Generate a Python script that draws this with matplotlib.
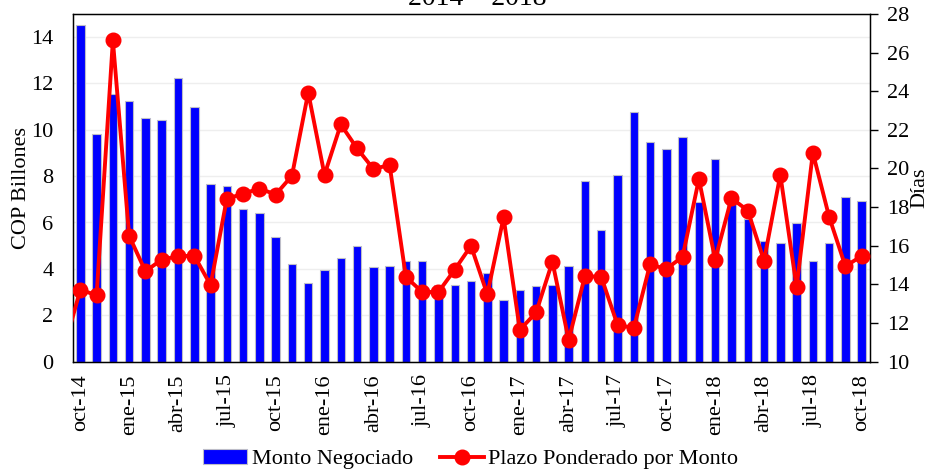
import numpy as np
import matplotlib
matplotlib.use("Agg")
import matplotlib.pyplot as plt
from matplotlib.patches import Patch
from matplotlib.lines import Line2D

plt.rcParams['font.family'] = ['Liberation Serif', 'DejaVu Serif']

# Monthly data, oct-14 .. oct-18 (49 months)
monto_negociado = [14.54, 9.80, 11.56, 11.26, 10.52, 10.43, 12.25, 10.98, 7.67, 7.57, 6.58, 6.40,
                   5.39, 4.21, 3.40, 3.95, 4.45, 4.99, 4.08, 4.12, 4.35, 4.35, 3.30, 3.31,
                   3.48, 3.83, 2.67, 3.07, 3.25, 3.30, 4.12, 7.79, 5.66, 8.03, 10.79, 9.48,
                   9.16, 9.67, 6.90, 8.76, 6.80, 6.16, 5.20, 5.12, 5.97, 4.35, 5.12, 7.11, 6.94]

# Plazo ponderado (días); first value is sep-14 (outside the visible range)
plazo_ponderado = [10.7,
                   13.72, 13.43, 26.63, 16.51, 14.67, 15.28, 15.45, 15.48, 13.96, 18.43, 18.69, 18.96,
                   18.65, 19.62, 23.93, 19.67, 22.28, 21.04, 19.98, 20.17, 14.38, 13.60, 13.60, 14.76,
                   15.99, 13.48, 17.46, 11.64, 12.54, 15.17, 11.12, 14.43, 14.38, 11.90, 11.73, 15.03,
                   14.79, 15.43, 19.45, 15.28, 18.46, 17.82, 15.22, 19.67, 13.86, 20.81, 17.49, 14.93,
                   15.47]

tick_labels = ['oct-14', 'ene-15', 'abr-15', 'jul-15', 'oct-15', 'ene-16', 'abr-16', 'jul-16',
               'oct-16', 'ene-17', 'abr-17', 'jul-17', 'oct-17', 'ene-18', 'abr-18', 'jul-18', 'oct-18']

titulo = '2014 – 2018'
label_bar = 'Monto Negociado'
label_line = 'Plazo Ponderado por Monto'

FS = 16

fig = plt.figure(figsize=(9.32, 4.73), dpi=100)
ax = fig.add_axes([73/932, 1-361.5/473, 797/932, 347.5/473])

x_bar = np.arange(len(monto_negociado))
ax.bar(x_bar, monto_negociado, width=0.52, color='#0000FF', edgecolor='#BDBDC8', linewidth=0.8, zorder=2)
ax.set_ylim(0, 15)
ax.set_yticks(np.arange(0, 15, 2))
ax.set_xlim(-0.45, 48.51)
ax.set_xticks(x_bar[::3])
ax.set_xticklabels(tick_labels, rotation=90, fontsize=FS)
ax.tick_params(axis='x', length=0, pad=9)
ax.tick_params(axis='y', length=0, pad=14, labelsize=FS)
ax.yaxis.grid(True, color='#EEEEEE', linewidth=1)
ax.set_axisbelow(True)
ax.set_ylabel('COP Billones', fontsize=FS, labelpad=0)
for s in ax.spines.values():
    s.set_linewidth(1.0)

ax2 = ax.twinx()
x_line = np.arange(-1, len(plazo_ponderado) - 1)
ax2.plot(x_line, plazo_ponderado, color='#FF0000', linewidth=2.8, marker='o', markersize=10.5, zorder=3)
ax2.set_ylim(10, 28)
ax2.set_yticks(np.arange(10, 29, 2))
ax2.tick_params(axis='y', direction='out', length=6, width=1, pad=6, labelsize=FS)
ax2.set_ylabel('Días', fontsize=FS, labelpad=1)
ax2.set_xlim(-0.45, 48.51)

fig.text(477/932, 1 - 5/473, titulo, ha='center', va='baseline', fontsize=20)

handles = [Patch(facecolor='#0000FF', edgecolor='#BDBDC8', linewidth=0.8),
           Line2D([], [], color='#FF0000', linewidth=2.8, marker='o', markersize=10.5)]
fig.legend(handles, [label_bar, label_line], loc='center', bbox_to_anchor=(0.505, 1 - 459/473),
           ncol=2, frameon=False, fontsize=FS, handlelength=2.0, handletextpad=0.2,
           columnspacing=1.2, borderaxespad=0)

fig.savefig('out.png', dpi=100)
